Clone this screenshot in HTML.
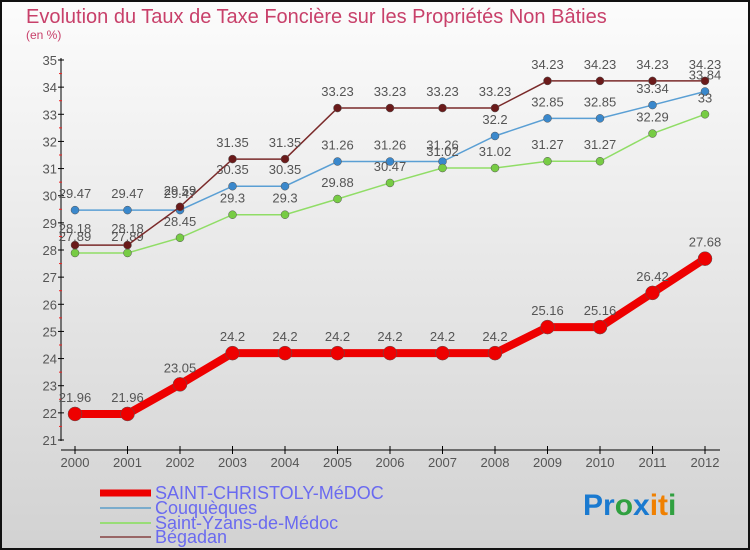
<!DOCTYPE html>
<html><head><meta charset="utf-8"><style>
body{margin:0;width:750px;height:550px;overflow:hidden}
svg{display:block;font-family:"Liberation Sans",sans-serif}
</style></head><body>
<svg id="c" width="750" height="550">
<defs><linearGradient id="bg" x1="0" y1="0" x2="0" y2="1"><stop offset="0" stop-color="#fcfcfc"/><stop offset="1" stop-color="#d2d2d2"/></linearGradient></defs>
<rect x="1" y="1" width="748" height="548" fill="url(#bg)" stroke="#111" stroke-width="2"/>
<text x="26" y="23" font-size="20" fill="#c8406a" font-weight="300">Evolution du Taux de Taxe Foncière sur les Propriétés Non Bâties</text>
<text x="26" y="39" font-size="12" fill="#c8406a">(en %)</text>
<g id="axes"></g><g id="series"></g>
<g>
<line x1="100" y1="493" x2="151" y2="493" stroke="#e00" stroke-width="7"/>
<text x="155" y="499" font-size="18" fill="#6a6af0">SAINT-CHRISTOLY-MéDOC</text>
<line x1="100" y1="508" x2="151" y2="508" stroke="#7aaccc" stroke-width="2"/>
<text x="155" y="514" font-size="18" fill="#6a6af0">Couquèques</text>
<line x1="100" y1="523" x2="151" y2="523" stroke="#99dd77" stroke-width="2"/>
<text x="155" y="529" font-size="18" fill="#6a6af0">Saint-Yzans-de-Médoc</text>
<line x1="100" y1="537" x2="151" y2="537" stroke="#996666" stroke-width="2"/>
<text x="155" y="543" font-size="18" fill="#6a6af0">Bégadan</text>
</g>
<text x="583" y="515" font-size="30" font-weight="bold"><tspan fill="#1a7ad0">Pr</tspan><tspan fill="#30a040">o</tspan><tspan fill="#1a7ad0">x</tspan><tspan fill="#f08000">i</tspan><tspan fill="#f08000">t</tspan><tspan fill="#30a040">i</tspan></text>
</svg>
<script>
const years=[2000,2001,2002,2003,2004,2005,2006,2007,2008,2009,2010,2011,2012];
const yTicks=[21,22,23,24,25,26,27,28,29,30,31,32,33,34,35];
const stChristoly=[21.96,21.96,23.05,24.2,24.2,24.2,24.2,24.2,24.2,25.16,25.16,26.42,27.68];
const couqueques=[29.47,29.47,29.47,30.35,30.35,31.26,31.26,31.26,32.2,32.85,32.85,33.34,33.84];
const saintYzans=[27.89,27.89,28.45,29.3,29.3,29.88,30.47,31.02,31.02,31.27,31.27,32.29,33];
const begadan=[28.18,28.18,29.59,31.35,31.35,33.23,33.23,33.23,33.23,34.23,34.23,34.23,34.23];
const NS="http://www.w3.org/2000/svg";
const X=y=>75+(y-2000)*52.5;
const Y=v=>440-(v-21)*(380/14);
function mk(t,a,p){const e=document.createElementNS(NS,t);for(const k in a)e.setAttribute(k,a[k]);p.appendChild(e);return e;}
const ax=document.getElementById('axes');
let yl=mk('line',{x1:61,y1:58,x2:61,y2:441,stroke:'#000'},ax);


let xl=mk('line',{x1:61,y1:450,x2:720,y2:450,stroke:'#000'},ax);


yTicks.forEach(v=>{
  mk('line',{x1:58,y1:Y(v),x2:64,y2:Y(v),stroke:'#000'},ax);
  if(v<35)mk('line',{x1:59,y1:Y(v+0.5),x2:62,y2:Y(v+0.5),stroke:'#e22'},ax);
  const t=mk('text',{x:57,y:Y(v)+5,'font-size':13,fill:'#555','text-anchor':'end'},ax);
  t.textContent=v;
  
  
});
years.forEach(y=>{
  mk('line',{x1:X(y),y1:446,x2:X(y),y2:454,stroke:'#000'},ax);
  const t=mk('text',{x:X(y),y:467,'font-size':13,fill:'#555','text-anchor':'middle'},ax);
  t.textContent=y;
  
  
});
const sg=document.getElementById('series');
function draw(vals,col,dot,w,r,name){
  const g=mk('g',{},sg);
  
  
  const d=vals.map((v,i)=>`${X(years[i])},${Y(v)}`).join(' ');
  mk('polyline',{points:d,fill:'none',stroke:col,'stroke-width':w},g);
  vals.forEach((v,i)=>{
    const c=mk('circle',{cx:X(years[i]),cy:Y(v),r:r,fill:dot,stroke:'#555','stroke-width':0.5},g);
    
    
    const t=mk('text',{x:X(years[i]),y:Y(v)-12,'font-size':13,fill:'#555','text-anchor':'middle'},g);
    t.textContent=v;
    
    
  });
}
draw(couqueques,'#5a9fd4','#3a88cc',1.5,4,'series-couqueques');
draw(saintYzans,'#90dd66','#77cc44',1.5,4,'series-saint-yzans');
draw(begadan,'#7a2a2a','#6a1a1a',1.5,4,'series-begadan');
draw(stChristoly,'#ee0000','#ee0000',8,7,'series-saint-christoly');
</script>
</body></html>
